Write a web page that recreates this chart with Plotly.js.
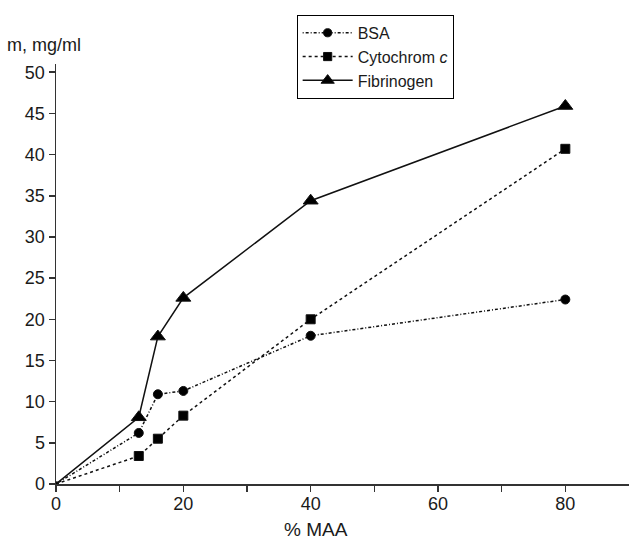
<!DOCTYPE html>
<html>
<head>
<meta charset="utf-8">
<script src="https://cdn.plot.ly/plotly-3.0.1.min.js"></script>
<style>html,body{margin:0;padding:0;background:#fff;}#chart{width:629px;height:543px;}</style>
</head>
<body>
<div id="chart"></div>
<script>
const maa = [0, 13, 16, 20, 40, 80];
const bsa = [0, 6.2, 10.9, 11.3, 18.0, 22.4];
const cytochrom = [0, 3.4, 5.5, 8.3, 20.0, 40.7];
const fibrinogen = [0, 8.1, 17.9, 22.6, 34.4, 45.9];
const seriesNames = ['BSA', 'Cytochrom <i>c</i>', 'Fibrinogen'];
const xTickVals = [0, 10, 20, 30, 40, 50, 60, 70, 80];
const xTickText = ['0', '', '20', '', '40', '', '60', '', '80'];
const yTickVals = [0, 5, 10, 15, 20, 25, 30, 35, 40, 45, 50];

const font = {family: 'Liberation Sans, Arial, sans-serif', color: '#1a1a1a'};

function sizes(s) { return maa.map((v, i) => i === 0 ? 4 : s); }

const traces = [
  {x: maa, y: bsa, name: seriesNames[0], legendgroup: 'a', mode: 'lines+markers',
   line: {color: '#111', width: 1.5, dash: '1px,2px,3px,2px'},
   marker: {symbol: 'circle', size: sizes(9), color: '#000', opacity: 1}},
  {x: maa, y: cytochrom, name: seriesNames[1], legendgroup: 'b', mode: 'lines+markers',
   line: {color: '#111', width: 1.5, dash: '3px,3px'},
   marker: {symbol: 'square', size: sizes(9), color: '#000', opacity: 1}},
  {x: maa, y: fibrinogen, name: seriesNames[2], legendgroup: 'c', mode: 'lines+markers',
   line: {color: '#111', width: 1.5},
   marker: {symbol: 'triangle-up', size: sizes(13), color: '#000', opacity: 1}}
];

const layout = {
  width: 629, height: 543,
  margin: {l: 56, r: 0, t: 64, b: 59},
  paper_bgcolor: '#fff', plot_bgcolor: '#fff',
  font: Object.assign({size: 18}, font),
  showlegend: true,
  legend: {x: 0.42, y: 1.117, xanchor: 'left', yanchor: 'top',
    bordercolor: '#000', borderwidth: 1, bgcolor: '#fff',
    font: Object.assign({size: 16}, font), tracegroupgap: 0,
    itemwidth: 50},
  xaxis: {range: [0, 90], tickvals: xTickVals, ticktext: xTickText,
    showgrid: false, zeroline: false, showline: true, linecolor: '#333', linewidth: 1.5,
    ticks: 'outside', ticklen: 6, tickcolor: '#333', tickwidth: 1.5,
    ticklabelstandoff: -3,
    tickfont: Object.assign({size: 18}, font)},
  yaxis: {range: [0, 51], tickvals: yTickVals,
    showgrid: false, zeroline: false, showline: true, linecolor: '#333', linewidth: 1.5,
    ticks: 'outside', ticklen: 6, tickcolor: '#333', tickwidth: 1.5,
    tickfont: Object.assign({size: 18}, font)},
  annotations: [
    {text: 'm, mg/ml', xref: 'paper', yref: 'paper', x: -0.089, y: 1.045,
     xanchor: 'left', yanchor: 'middle', showarrow: false,
     font: Object.assign({size: 18}, font)},
    {text: '% MAA', xref: 'paper', yref: 'paper', x: 0.453, y: -0.108,
     xanchor: 'center', yanchor: 'middle', showarrow: false,
     font: Object.assign({size: 19}, font)}
  ]
};

Plotly.newPlot('chart', traces, layout, {displayModeBar: false, staticPlot: true});
</script>
</body>
</html>
